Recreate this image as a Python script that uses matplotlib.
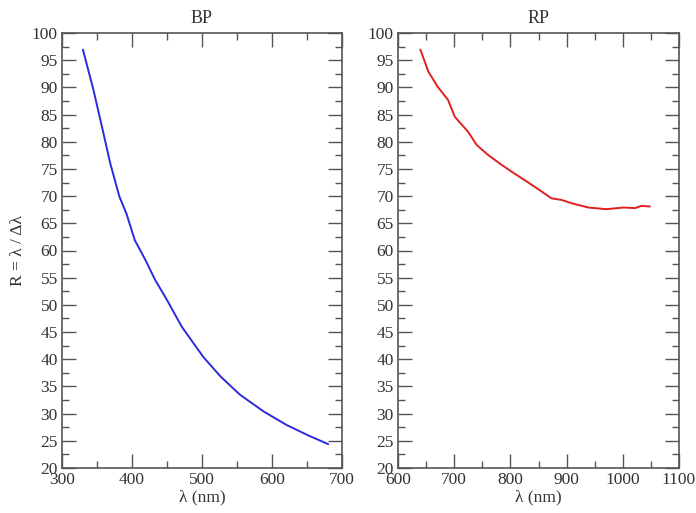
import numpy as np
import matplotlib.pyplot as plt
from matplotlib.ticker import MultipleLocator

# BP band resolution
bp_wl = [330, 345, 357, 369, 382, 392, 404, 419, 433, 450, 471, 487, 502, 526, 554, 588, 621, 650, 680]
bp_R = [96.9, 89.5, 82.8, 76.0, 69.9, 66.8, 61.9, 58.3, 54.6, 50.9, 46.0, 43.1, 40.4, 36.9, 33.5, 30.4, 27.9, 26.1, 24.4]

# RP band resolution
rp_wl = [640, 654, 670, 689, 701, 725, 740, 760, 781, 805, 829, 852, 873, 891, 912, 939, 971, 1001, 1022, 1033, 1048]
rp_R = [96.9, 92.9, 90.2, 87.7, 84.6, 81.8, 79.4, 77.6, 76.0, 74.3, 72.7, 71.1, 69.6, 69.3, 68.6, 67.9, 67.6, 67.9, 67.8, 68.2, 68.1]

plt.rcParams['font.family'] = ['Liberation Serif', 'DejaVu Serif']
plt.rcParams['font.size'] = 12.5
txt = '#333333'

fig = plt.figure(figsize=(6.96, 5.13), dpi=100)
ax1 = fig.add_axes([62 / 696, 1 - 468 / 513, 280 / 696, 435 / 513])
ax2 = fig.add_axes([398 / 696, 1 - 468 / 513, 281 / 696, 435 / 513])

ax1.plot(bp_wl, bp_R, color='#2b2bdd', lw=1.4)
ax2.plot(rp_wl, rp_R, color='#e02020', lw=1.4)

for ax, title, xlim in [(ax1, 'BP', (300, 700)), (ax2, 'RP', (600, 1100))]:
    ax.set_xlim(*xlim)
    ax.set_ylim(20, 100)
    ax.xaxis.set_major_locator(MultipleLocator(100))
    ax.xaxis.set_minor_locator(MultipleLocator(50))
    ax.yaxis.set_major_locator(MultipleLocator(5))
    ax.yaxis.set_minor_locator(MultipleLocator(2.5))
    ax.tick_params(which='both', direction='in', top=True, right=True, color='#555555', labelcolor=txt, pad=3)
    ax.tick_params(which='major', length=10, width=1)
    ax.tick_params(which='minor', length=5, width=1)
    for s in ax.spines.values():
        s.set_color('#555555')
        s.set_linewidth(1.2)
    ax.set_title(title, color=txt, fontsize=13, pad=7)
    ax.set_xlabel('λ (nm)', color=txt, labelpad=1)

ax1.set_ylabel('R = λ / Δλ', color=txt, labelpad=4)

plt.savefig('out.png', dpi=100)
